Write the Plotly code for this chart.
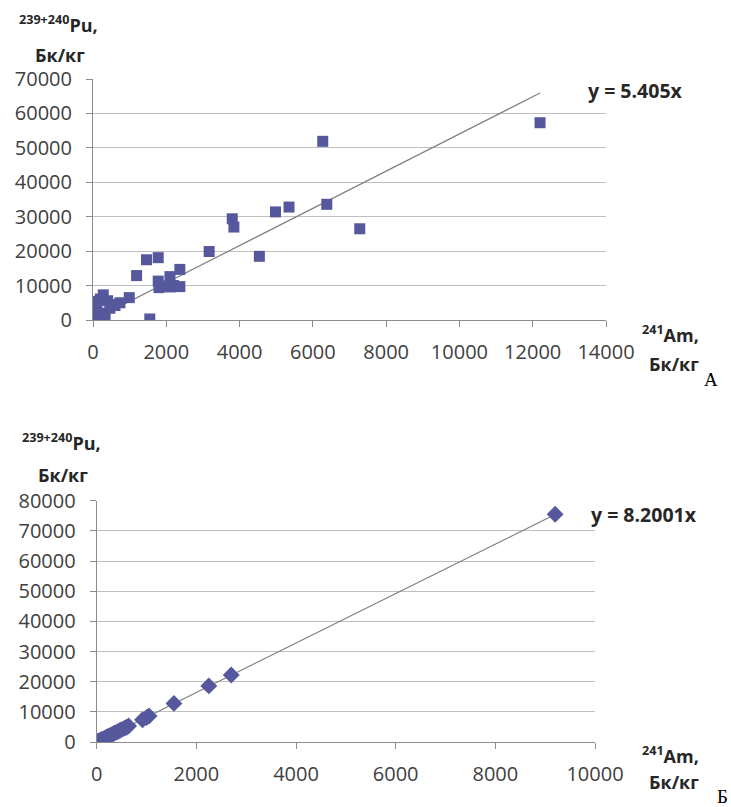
import plotly.graph_objects as go

# Panel A: 241Am vs 239+240Pu (Bq/kg)
am_a = [12200, 7280, 6380, 6270, 5350, 4980, 3800, 3845, 3170, 4540,
        2370, 2100, 1780, 1780, 1460, 1190, 2370, 2100, 1800, 1950, 2200,
        1550, 990, 735, 510, 280, 10, 100, 10, 330, 460, 200, 50, 150,
        300, 400, 200, 600]
pu_a = [57300, 26500, 33600, 51900, 32800, 31400, 29400, 27000, 19900, 18500,
        14700, 12600, 11300, 18100, 17500, 12900, 9700, 9600, 9400, 9900, 10000,
        300, 6500, 5000, 4500, 7300, 5400, 3500, 1100, 1100, 3400, 2000, 300, 500,
        600, 5600, 6100, 4200]
slope_a = 5.405

# Panel B
am_b = [9200, 2700, 2250, 1550, 1050, 1000, 920, 640, 600, 560, 510, 470,
        430, 390, 350, 310, 270, 230, 190, 150, 110, 80, 50, 30, 15, 5]
pu_b = [75500, 22200, 18600, 12800, 8600, 8100, 7400, 5300, 4900, 4600, 4200,
        3900, 3500, 3200, 2900, 2500, 2200, 1900, 1600, 1200, 900, 650, 400,
        250, 120, 40]
slope_b = 8.2001

x_ticks_a = [0, 2000, 4000, 6000, 8000, 10000, 12000, 14000]
y_ticks_a = [0, 10000, 20000, 30000, 40000, 50000, 60000, 70000]
x_ticks_b = [0, 2000, 4000, 6000, 8000, 10000]
y_ticks_b = [0, 10000, 20000, 30000, 40000, 50000, 60000, 70000, 80000]

W, H = 731, 807
marker_color = "#55589c"
tick_font = dict(family="Open Sans", size=20, color="#404040")


def px_x(p):
    return p / W


def px_y(p):
    return 1 - p / H


fig = go.Figure()

xa_max = max(am_a)
fig.add_trace(go.Scatter(x=[0, xa_max], y=[0, slope_a * xa_max], mode="lines",
                         line=dict(color="#7f7f7f", width=1.2),
                         xaxis="x", yaxis="y", showlegend=False, hoverinfo="skip"))
fig.add_trace(go.Scatter(x=am_a, y=pu_a, mode="markers",
                         marker=dict(symbol="square", size=11, color=marker_color),
                         xaxis="x", yaxis="y", showlegend=False))

xb_max = max(am_b)
fig.add_trace(go.Scatter(x=[0, xb_max], y=[0, slope_b * xb_max], mode="lines",
                         line=dict(color="#7f7f7f", width=1.2),
                         xaxis="x2", yaxis="y2", showlegend=False, hoverinfo="skip"))
fig.add_trace(go.Scatter(x=am_b, y=pu_b, mode="markers",
                         marker=dict(symbol="diamond", size=13, color=marker_color),
                         xaxis="x2", yaxis="y2", showlegend=False))

axis_common = dict(showline=True, linecolor="#8c8c8c", linewidth=1,
                   ticks="outside", ticklen=6, tickcolor="#8c8c8c",
                   tickfont=tick_font, tickformat="d", zeroline=False,
                   fixedrange=True, automargin=False)
x_common = dict(showgrid=False, ticklabelstandoff=8, **axis_common)
y_common = dict(showgrid=True, gridcolor="#bfbfbf", gridwidth=1,
                ticklabelstandoff=10, **axis_common)

fig.update_layout(
    template="none",
    width=W, height=H,
    margin=dict(l=0, r=0, t=0, b=0, pad=0),
    paper_bgcolor="white", plot_bgcolor="white",
    xaxis=dict(domain=[px_x(93), px_x(606)], range=[0, 14000], tickvals=x_ticks_a,
               anchor="y", **x_common),
    yaxis=dict(domain=[px_y(320), px_y(79)], range=[0, 70000], tickvals=y_ticks_a,
               anchor="x", **y_common),
    xaxis2=dict(domain=[px_x(96.7), px_x(595)], range=[0, 10000], tickvals=x_ticks_b,
                anchor="y2", **x_common),
    yaxis2=dict(domain=[px_y(742), px_y(500.7)], range=[0, 80000], tickvals=y_ticks_b,
                anchor="x2", **y_common),
)

ann = []


def add_text(text, x, y, font, xanchor="center"):
    ann.append(dict(text=text, x=px_x(x), y=px_y(y), xref="paper", yref="paper",
                    showarrow=False, font=font, xanchor=xanchor, yanchor="middle"))


bold = dict(family="Open Sans", size=18, color="#262626")
eq_font = dict(family="Open Sans", size=19.5, color="#262626")
letter_font = dict(family="Liberation Serif", size=19, color="#000000")

# Panel A titles
add_text("<b><sup>239+240</sup>Pu,</b>", 58, 24, bold)
add_text("<b>Бк/кг</b>", 60, 55, bold)
add_text("<b><sup>241</sup>Am,</b>", 670, 334, bold)
add_text("<b>Бк/кг</b>", 674, 364, bold)
add_text("<b>y = 5.405x</b>", 586, 91, eq_font, xanchor="left")
add_text("А", 711, 379, letter_font)

# Panel B titles
add_text("<b><sup>239+240</sup>Pu,</b>", 61, 442, bold)
add_text("<b>Бк/кг</b>", 63, 475, bold)
add_text("<b><sup>241</sup>Am,</b>", 670, 755, bold)
add_text("<b>Бк/кг</b>", 674, 782, bold)
add_text("<b>y = 8.2001x</b>", 589, 514, eq_font, xanchor="left")
add_text("Б", 722, 796, letter_font)

fig.update_layout(annotations=ann)

fig.write_html("out.html")
